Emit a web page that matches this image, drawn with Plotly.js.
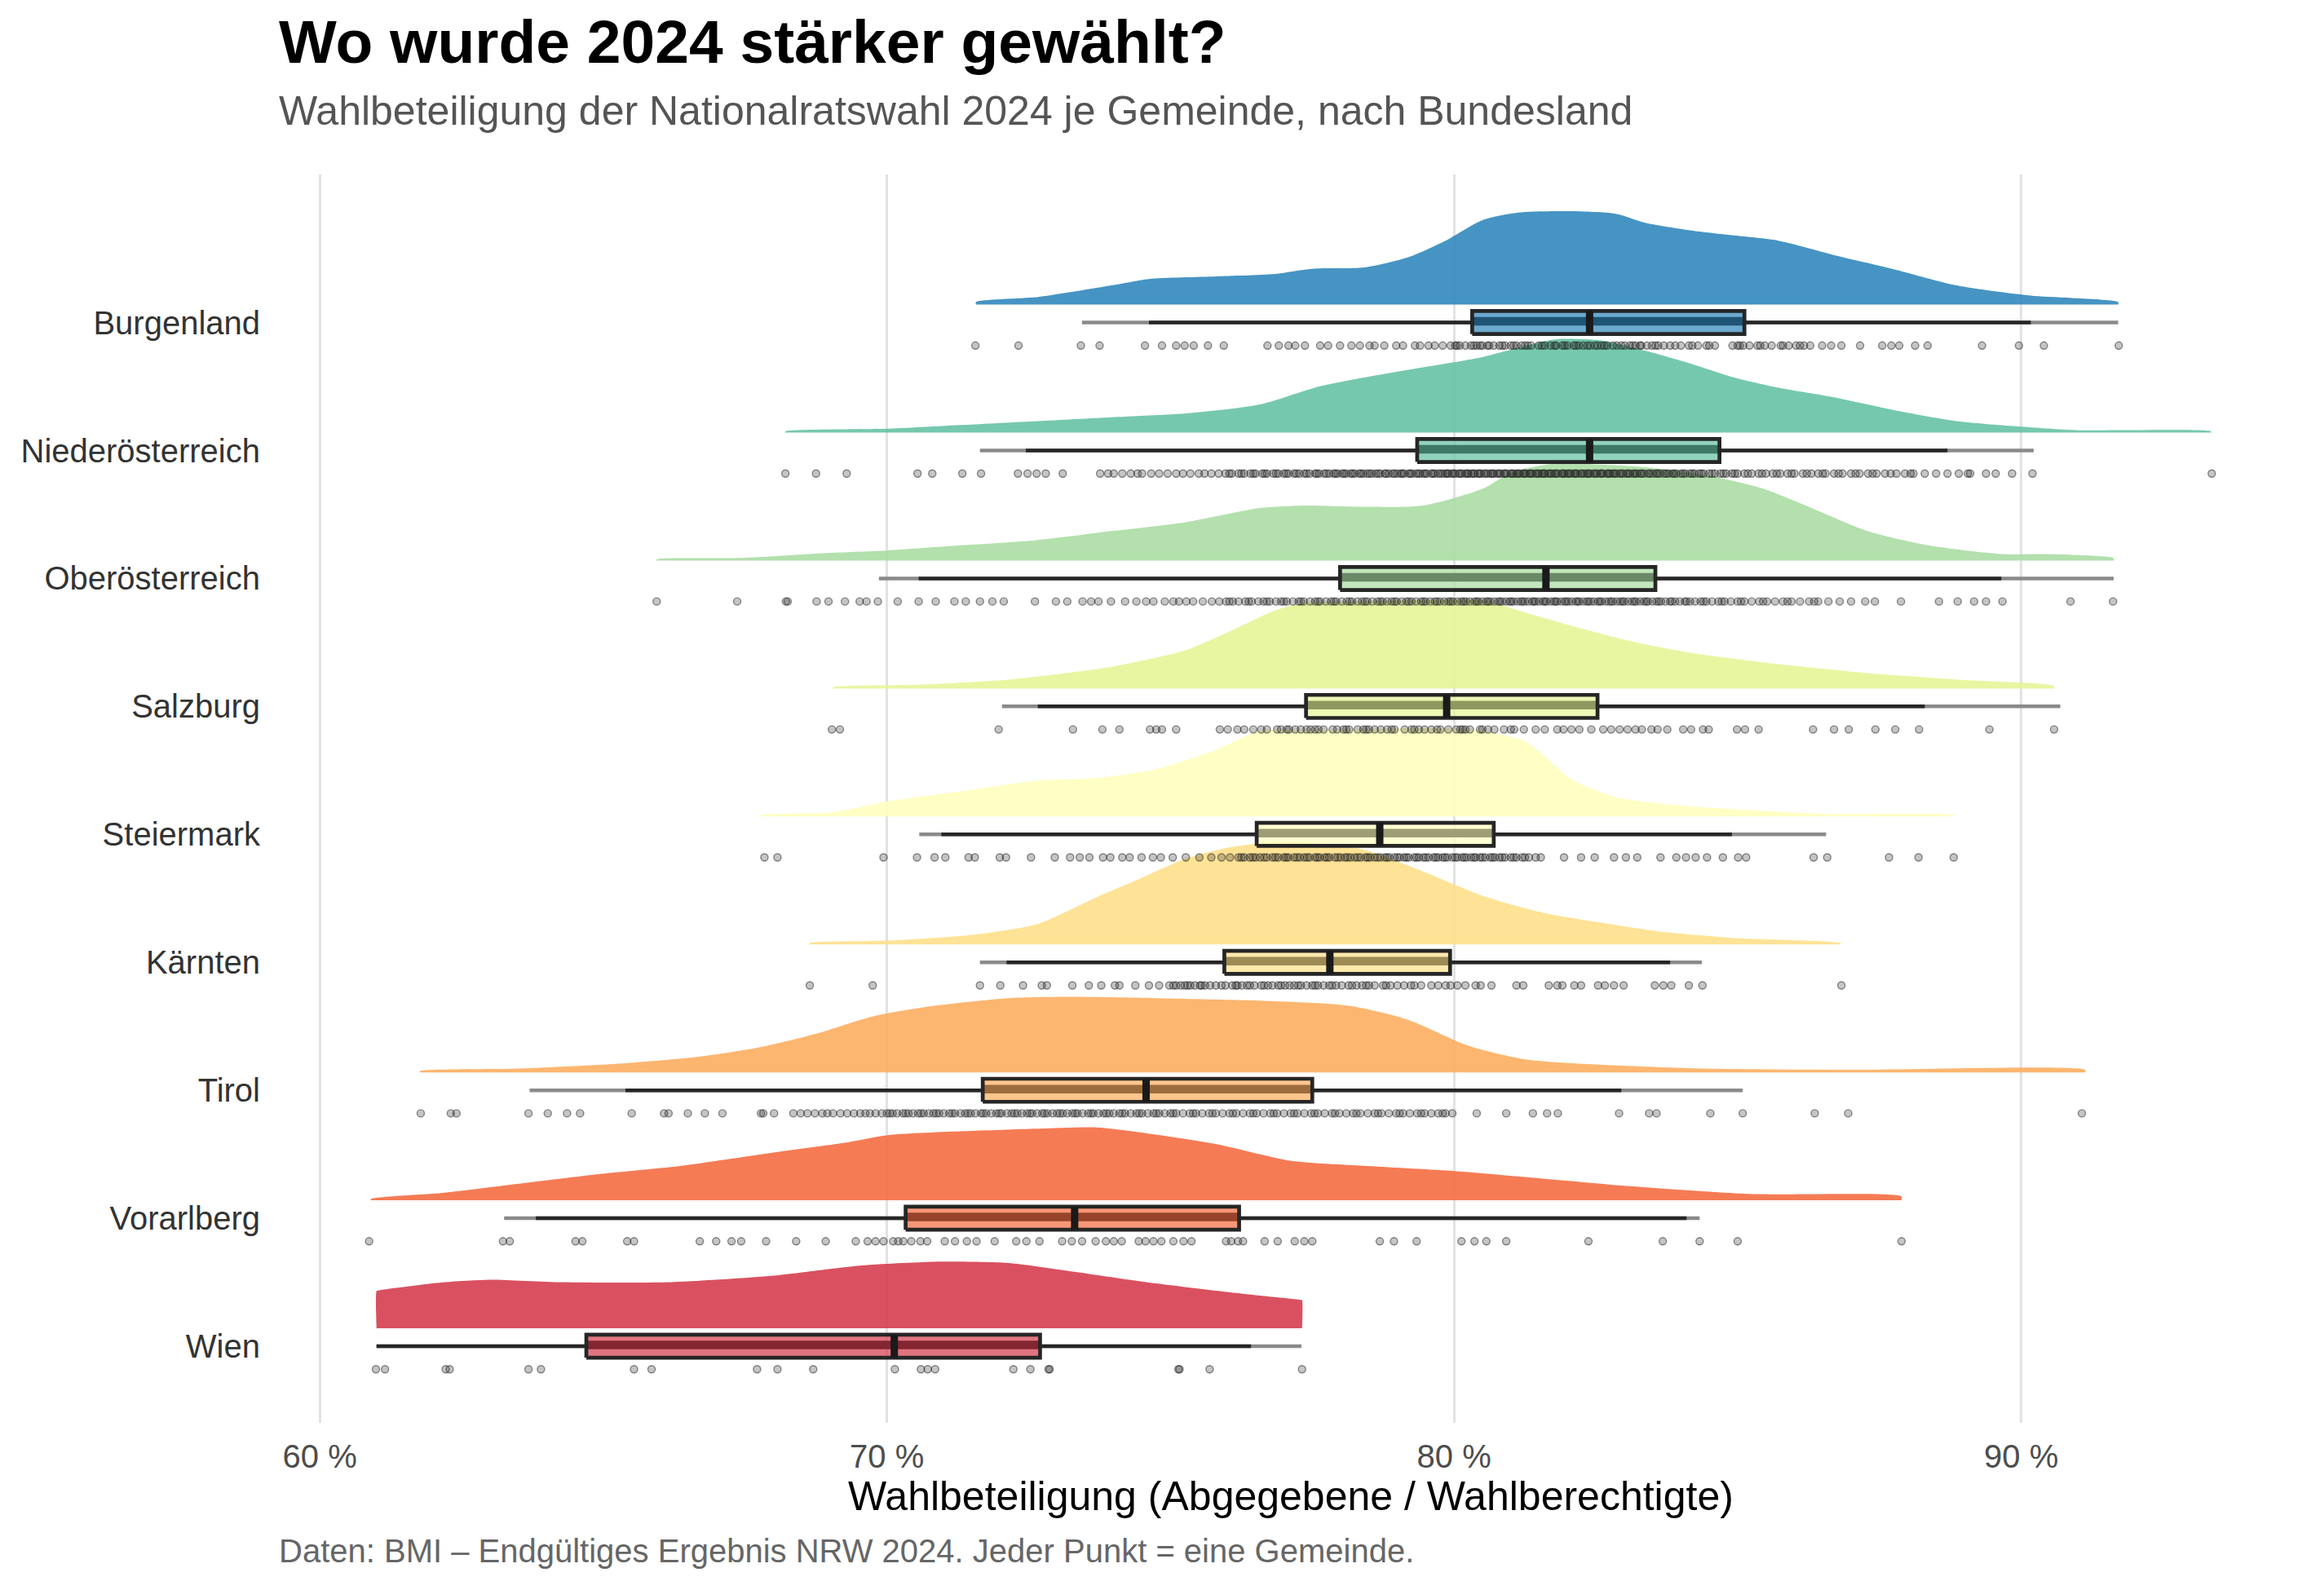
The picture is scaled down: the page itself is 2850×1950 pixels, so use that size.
<!DOCTYPE html>
<html><head><meta charset="utf-8">
<script src="https://cdn.plot.ly/plotly-3.0.1.min.js"></script>
<style>html,body{margin:0;padding:0;background:#fff}#chart{width:2850px;height:1950px}</style>
</head><body><div id="chart"></div>
<script>
// ---------- DATA ----------
const categories = ["Burgenland","Niederösterreich","Oberösterreich","Salzburg","Steiermark","Kärnten","Tirol","Vorarlberg","Wien"];
const tickValsX = [60,70,80,90];
const tickTextX = ["60 %","70 %","80 %","90 %"];

// box statistics (turnout in %) per Bundesland
const boxQ1     = [80.32, 79.35, 77.99, 77.39, 76.52, 75.95, 71.69, 70.33, 64.70];
const boxMedian = [82.39, 82.39, 81.62, 79.87, 78.69, 77.81, 74.57, 73.31, 70.13];
const boxQ3     = [85.12, 84.68, 83.55, 82.53, 80.70, 79.93, 77.50, 76.21, 72.70];
const whiskLo   = [73.44, 71.64, 69.86, 72.03, 70.57, 71.64, 63.70, 63.25, 61.00];
const whiskHi   = [91.71, 90.22, 91.63, 90.69, 86.56, 84.37, 85.09, 84.33, 77.31];
const innerLo   = [74.62, 72.45, 70.56, 72.66, 70.96, 72.11, 65.39, 63.81, 61.00];
const innerHi   = [90.17, 88.70, 89.65, 88.30, 84.90, 83.81, 82.95, 84.10, 76.42];

// density curves (x in %, height relative to row spacing)
const dens_Burgenland_x = [71.57,72.67,73.96,74.62,75.80,76.84,77.49,78.41,79.19,79.85,80.50,81.15,82.07,82.85,83.37,84.16,84.94,85.72,86.77,87.81,88.86,90.17,91.71];
const dens_Burgenland_h = [0.02,0.06,0.15,0.20,0.22,0.24,0.28,0.29,0.37,0.50,0.66,0.72,0.73,0.71,0.64,0.58,0.54,0.50,0.38,0.27,0.15,0.07,0.02];
const dens_Niederoesterreich_x = [68.21,70.04,71.35,72.66,73.96,75.27,76.58,77.62,78.41,79.45,80.50,81.28,81.81,82.59,83.37,84.16,84.94,85.72,86.77,87.81,88.86,89.90,90.95,93.35];
const dens_Niederoesterreich_h = [0.01,0.03,0.06,0.09,0.12,0.15,0.22,0.36,0.43,0.51,0.59,0.68,0.73,0.72,0.64,0.54,0.43,0.35,0.27,0.17,0.09,0.05,0.02,0.01];
const dens_Oberoesterreich_x = [65.94,67.43,69.00,70.04,71.35,72.66,73.96,75.27,76.58,77.36,78.41,79.45,80.50,81.02,81.81,82.59,83.37,84.42,85.46,86.25,87.29,88.34,89.65,90.43,91.63];
const dens_Oberoesterreich_h = [0.01,0.02,0.06,0.08,0.12,0.16,0.23,0.30,0.41,0.43,0.42,0.43,0.56,0.69,0.76,0.75,0.73,0.67,0.56,0.42,0.23,0.12,0.05,0.05,0.02];
const dens_Salzburg_x = [69.05,70.57,72.14,73.96,75.27,76.06,76.84,77.36,78.41,79.45,80.50,81.28,82.07,83.11,84.16,85.72,87.29,88.86,90.58];
const dens_Salzburg_h = [0.01,0.03,0.07,0.17,0.30,0.45,0.61,0.67,0.68,0.69,0.69,0.59,0.49,0.37,0.28,0.19,0.12,0.07,0.02];
const dens_Steiermark_x = [67.77,69.00,70.04,71.35,72.66,73.70,74.75,75.80,76.58,77.36,78.41,79.45,80.50,81.28,82.07,82.85,83.90,85.20,86.51,88.81];
const dens_Steiermark_h = [0.01,0.03,0.12,0.20,0.28,0.30,0.37,0.52,0.67,0.67,0.68,0.69,0.67,0.58,0.29,0.15,0.09,0.05,0.02,0.01];
const dens_Kaernten_x = [68.63,70.04,71.61,72.66,73.70,74.49,75.27,76.06,76.84,77.62,78.41,79.45,80.50,81.54,82.59,83.63,84.94,86.82];
const dens_Kaernten_h = [0.01,0.03,0.08,0.16,0.37,0.52,0.67,0.76,0.80,0.79,0.74,0.57,0.38,0.25,0.17,0.10,0.05,0.01];
const dens_Tirol_x = [61.76,63.51,65.34,66.65,67.69,68.74,69.78,70.83,72.14,73.18,74.75,76.58,78.15,79.19,80.24,81.28,82.59,84.42,87.03,91.13];
const dens_Tirol_h = [0.01,0.03,0.07,0.12,0.19,0.30,0.44,0.52,0.58,0.59,0.58,0.56,0.52,0.41,0.21,0.10,0.06,0.03,0.02,0.02];
const dens_Vorarlberg_x = [60.90,62.20,63.51,64.82,66.38,67.95,69.26,70.04,71.35,72.66,73.70,74.49,75.80,77.10,78.41,79.97,81.81,83.11,85.20,87.89];
const dens_Vorarlberg_h = [0.01,0.06,0.13,0.20,0.27,0.37,0.45,0.51,0.54,0.56,0.57,0.53,0.44,0.31,0.27,0.23,0.16,0.11,0.05,0.03];
const dens_Wien_x = [61.00,61.02,62.20,62.99,64.29,66.12,67.95,69.52,70.83,72.14,73.18,74.75,76.06,77.30,77.32];
const dens_Wien_h = [0.29,0.295,0.36,0.38,0.36,0.36,0.41,0.49,0.52,0.51,0.45,0.35,0.28,0.222,0.22];

// turnout per Gemeinde (%), read from the dot strips
const pts_Burgenland = [71.56,72.32,73.42,73.75,74.55,74.85,75.10,75.25,75.41,75.66,75.94,76.71,76.91,77.08,77.2,77.37,77.64,77.78,77.99,78.19,78.34,78.51,78.6,78.77,78.98,79.10,79.31,79.4,79.66,79.8,79.94,80.02,80.1,80.2,80.35,80.4,80.46,80.5,80.59,80.7,80.8,80.9,81.0,81.1,81.19,81.3,81.36,81.49,81.6,81.77,81.8,81.91,82.0,82.11,82.2,82.28,82.4,82.53,82.6,82.7,82.87,83.01,83.1,83.15,83.28,83.3,83.49,83.6,83.81,83.9,84.0,84.14,84.3,84.45,84.6,84.91,85.0,85.04,85.21,85.35,85.48,85.6,85.76,85.90,86.03,86.1,86.17,86.28,86.49,86.65,86.83,87.16,87.55,87.71,87.85,88.13,88.35,89.31,89.96,90.40,91.72,
  79.55,80.05,80.3,80.62,80.85,81.05,81.25,81.55,81.7,81.95,82.15,82.35,82.48,82.65,82.8,82.95,83.2,83.4,83.55,83.7,84.2,84.5,85.1,85.4,85.8];
const pts_Niederoesterreich = [68.21,68.75,69.29,70.54,70.80,71.33,71.66,72.31,72.48,72.64,72.80,73.10,73.76,73.9,74.0,74.15,74.3,74.42,74.5,74.66,74.8,74.95,75.1,75.22,75.35,75.5,75.6,75.72,75.85,75.97,76.08,76.2,76.3,76.41,76.5,76.62,76.7,76.81,76.9,77.0,77.08,77.18,77.27,77.36,77.45,77.55,77.62,77.71,77.8,77.88,77.95,78.03,78.1,78.18,78.25,78.33,78.4,78.47,78.55,78.62,78.7,78.78,78.85,78.92,79.0,79.06,79.12,79.2,79.26,79.33,79.4,79.46,79.52,79.6,79.66,79.72,79.8,79.85,79.9,79.96,80.02,80.08,80.14,80.2,80.25,80.3,80.36,80.42,80.47,80.53,80.6,80.65,80.7,80.76,80.82,80.88,80.93,81.0,81.05,81.1,81.16,81.22,81.27,81.33,81.38,81.44,81.5,81.55,81.6,81.66,81.72,81.77,81.83,81.9,81.95,82.0,82.06,82.12,82.17,82.23,82.3,82.35,82.4,82.46,82.52,82.58,82.63,82.7,82.75,82.8,82.86,82.92,82.98,83.04,83.1,83.16,83.22,83.28,83.35,83.42,83.5,83.56,83.63,83.7,83.78,83.85,83.92,84.0,84.08,84.16,84.24,84.32,84.4,84.5,84.6,84.7,84.8,84.9,85.0,85.12,85.25,85.37,85.5,85.62,85.75,85.88,86.0,86.15,86.3,86.42,86.55,86.7,86.85,87.0,87.15,87.3,87.45,87.6,87.8,87.95,88.1,88.3,88.5,88.7,88.9,89.06,89.10,89.38,89.55,89.84,90.20,93.36,
  76.04,76.25,76.46,76.66,76.86,77.04,77.22,77.4,77.58,77.75,77.91,78.06,78.21,78.36,78.51,78.66,78.8,78.95,79.09,79.23,79.37,79.49,79.63,79.76,79.88,79.99,80.11,80.23,80.34,80.45,80.56,80.68,80.79,80.9,81.02,81.13,81.24,81.35,81.47,81.58,81.69,81.8,81.92,82.03,82.14,82.26,82.37,82.49,82.6,82.72,82.83,82.95,83.07,83.19,83.31,83.45,83.59,83.74,83.88,84.04,84.2,84.36,84.55,84.75,84.95,85.18,85.43,85.69,85.95,86.22,86.5,86.78,87.08,87.38,87.7,88.05];
const pts_Oberoesterreich = [65.94,67.36,68.22,68.25,68.76,68.97,69.26,69.52,69.64,69.84,70.19,70.56,70.86,71.19,71.39,71.64,71.86,72.06,72.61,72.98,73.18,73.45,73.6,73.73,73.95,74.2,74.4,74.57,74.7,74.9,75.05,75.15,75.28,75.4,75.57,75.73,75.86,75.98,76.1,76.2,76.32,76.43,76.55,76.64,76.75,76.86,76.95,77.05,77.16,77.26,77.35,77.46,77.55,77.64,77.74,77.83,77.92,78.02,78.11,78.2,78.3,78.38,78.47,78.56,78.65,78.74,78.82,78.9,78.99,79.08,79.16,79.25,79.33,79.42,79.5,79.58,79.66,79.75,79.83,79.9,79.98,80.06,80.13,80.21,80.28,80.36,80.43,80.5,80.57,80.64,80.71,80.78,80.85,80.92,80.98,81.05,81.12,81.18,81.25,81.31,81.38,81.44,81.5,81.57,81.63,81.7,81.76,81.82,81.89,81.95,82.02,82.08,82.15,82.21,82.28,82.34,82.41,82.47,82.54,82.6,82.67,82.73,82.8,82.87,82.93,83.0,83.07,83.14,83.21,83.28,83.35,83.42,83.5,83.57,83.65,83.73,83.81,83.9,83.98,84.07,84.16,84.25,84.35,84.45,84.55,84.66,84.77,84.88,85.0,85.12,85.25,85.38,85.52,85.66,85.8,85.95,86.1,86.26,86.42,86.6,86.8,87.0,87.25,87.42,87.88,88.55,88.88,89.17,89.38,89.67,90.87,91.62,
  76.04,76.38,76.7,77.0,77.3,77.6,77.88,78.16,78.43,78.7,78.95,79.2,79.46,79.7,79.94,80.17,80.4,80.6,80.81,81.01,81.21,81.41,81.6,81.79,81.98,82.18,82.37,82.57,82.77,82.97,83.18,83.39,83.61,83.84,84.1,84.4,84.72,85.06,85.45,85.88,86.35];
const pts_Salzburg = [69.03,69.17,71.97,73.28,73.80,74.10,74.64,74.75,74.85,75.10,75.87,76.01,76.18,76.3,76.46,76.6,76.88,76.95,77.09,77.2,77.30,77.4,77.47,77.61,77.7,77.86,77.94,78.05,78.15,78.3,78.40,78.50,78.6,78.71,78.82,78.95,79.13,79.25,79.38,79.48,79.6,79.76,79.90,80.04,80.11,80.2,80.28,80.46,80.6,80.71,80.88,81.06,81.23,81.44,81.6,81.82,81.93,82.07,82.21,82.42,82.63,82.77,82.92,83.06,83.20,83.31,83.48,83.59,83.76,84.04,84.18,84.39,84.49,84.99,85.13,85.37,86.33,86.70,86.96,87.43,87.78,88.20,89.44,90.58,
  76.7,77.05,77.55,78.1,78.45,78.9,79.3,79.7,80.15,80.5,81.0];
const pts_Steiermark = [67.84,68.07,69.94,70.53,70.84,71.03,71.44,71.55,71.99,72.10,72.54,72.96,73.23,73.40,73.57,73.81,73.94,74.15,74.28,74.49,74.69,74.83,75.04,75.27,75.51,75.72,75.90,76.05,76.2,76.3,76.4,76.5,76.58,76.7,76.8,76.9,77.0,77.08,77.18,77.28,77.36,77.45,77.55,77.63,77.72,77.8,77.9,78.0,78.08,78.17,78.25,78.35,78.44,78.52,78.6,78.7,78.78,78.86,78.95,79.04,79.12,79.2,79.3,79.38,79.46,79.55,79.64,79.72,79.8,79.88,79.97,80.06,80.14,80.22,80.3,80.38,80.46,80.55,80.64,80.72,80.8,80.9,81.0,81.1,81.2,81.32,81.44,81.53,81.94,82.24,82.48,82.82,83.03,83.23,83.64,83.92,84.09,84.26,84.46,84.74,85.01,85.15,86.34,86.58,87.67,88.19,88.81,
  76.25,76.45,76.65,76.85,77.04,77.23,77.41,77.59,77.76,77.95,78.12,78.3,78.48,78.65,78.82,79.0,79.16,79.34,79.5,79.68,79.84,80.02,80.18,80.35,80.5,80.68,80.85,81.05,81.25];
const pts_Kaernten = [68.64,69.75,71.64,72.00,72.40,72.73,72.82,73.27,73.56,73.78,74.02,74.10,74.38,74.62,74.80,74.98,75.10,75.18,75.25,75.35,75.43,75.52,75.61,75.7,75.8,75.97,76.09,76.18,76.26,76.35,76.48,76.6,76.72,76.8,76.90,77.02,77.1,77.18,77.30,77.4,77.50,77.6,77.7,77.80,77.92,78.02,78.14,78.28,78.38,78.50,78.6,78.75,78.88,79.00,79.12,79.24,79.42,79.60,79.72,79.85,79.94,80.06,80.20,80.38,80.47,80.66,81.10,81.22,81.67,81.82,81.91,82.12,82.24,82.54,82.66,82.82,82.99,83.54,83.69,83.83,84.14,84.38,86.83,
  75.05,75.3,75.55,75.9,76.15,76.4,76.65,76.95,77.25,77.55,77.85,78.2,78.45,78.8,79.3];
const pts_Tirol = [61.78,62.31,62.41,63.68,64.02,64.36,64.59,65.50,66.07,66.15,66.49,66.79,67.10,67.78,67.82,68.01,68.35,68.48,68.6,68.73,68.86,68.95,69.05,69.18,69.3,69.42,69.53,69.62,69.7,69.8,69.91,70.0,70.1,70.18,70.28,70.38,70.46,70.55,70.65,70.74,70.82,70.92,71.0,71.1,71.2,71.3,71.38,71.48,71.56,71.66,71.75,71.84,71.93,72.02,72.12,72.2,72.3,72.38,72.47,72.56,72.65,72.74,72.83,72.92,73.0,73.1,73.18,73.27,73.36,73.45,73.55,73.64,73.73,73.82,73.92,74.0,74.1,74.2,74.3,74.4,74.5,74.6,74.7,74.8,74.9,75.0,75.1,75.22,75.34,75.45,75.56,75.68,75.8,75.92,76.04,76.16,76.28,76.4,76.52,76.64,76.76,76.88,77.0,77.12,77.24,77.36,77.48,77.6,77.72,77.85,77.98,78.1,78.22,78.35,78.48,78.6,78.72,78.85,78.98,79.1,79.22,79.35,79.48,79.6,79.72,79.85,79.97,80.40,80.92,81.39,81.64,81.83,82.91,83.44,83.57,84.52,85.09,86.36,86.95,91.07,
  70.05,70.33,70.6,70.87,71.15,71.43,71.7,71.98,72.25,72.52,72.78,73.05,73.32,73.6,73.87,74.15,74.45,74.75,75.05,75.4,75.74,76.1,76.46,76.82,77.18,77.54,77.9,78.28,78.66,79.04,79.42,79.8];
const pts_Vorarlberg = [60.87,63.23,63.35,64.51,64.63,65.42,65.54,66.70,66.99,67.26,67.43,67.87,68.40,68.92,69.45,69.66,69.8,69.94,70.11,70.2,70.29,70.43,70.59,70.71,71.02,71.2,71.41,71.58,71.90,72.28,72.46,72.69,73.09,73.26,73.44,73.68,73.86,74.00,74.14,74.44,74.56,74.70,74.84,75.05,75.23,75.37,75.98,76.07,76.19,76.28,76.66,76.89,77.19,77.36,77.50,78.69,78.94,79.34,80.13,80.36,80.57,80.92,82.37,83.68,84.33,85.00,87.89];
const pts_Wien = [60.99,61.15,62.22,62.29,63.68,63.90,65.54,65.85,67.71,68.07,68.70,70.14,70.60,70.72,70.85,72.23,72.53,72.85,72.87,75.14,75.16,75.69,77.32];

// ---------- STYLE ----------
const palette = ["#3288BD","#66C2A5","#ABDDA4","#E6F598","#FFFFBF","#FEE08B","#FDAE61","#F46D43","#D53E4F"];
const FONT = "Liberation Sans, Arial, Helvetica, sans-serif";
const W = 2850, H = 1950, MT = 214, MB = 205, ML = 340, MR = 25;

function hexRgb(h){return [parseInt(h.slice(1,3),16),parseInt(h.slice(3,5),16),parseInt(h.slice(5,7),16)];}
function rgba(h,a){const c=hexRgb(h);return `rgba(${c[0]},${c[1]},${c[2]},${a})`;}
function dark(h,f){const c=hexRgb(h).map(v=>Math.round(v*f));return `rgb(${c[0]},${c[1]},${c[2]})`;}

const densX = [dens_Burgenland_x,dens_Niederoesterreich_x,dens_Oberoesterreich_x,dens_Salzburg_x,dens_Steiermark_x,dens_Kaernten_x,dens_Tirol_x,dens_Vorarlberg_x,dens_Wien_x];
const densH = [dens_Burgenland_h,dens_Niederoesterreich_h,dens_Oberoesterreich_h,dens_Salzburg_h,dens_Steiermark_h,dens_Kaernten_h,dens_Tirol_h,dens_Vorarlberg_h,dens_Wien_h];
const ptsAll = [pts_Burgenland,pts_Niederoesterreich,pts_Oberoesterreich,pts_Salzburg,pts_Steiermark,pts_Kaernten,pts_Tirol,pts_Vorarlberg,pts_Wien];

const n = categories.length;
const rowY = i => n - i;           // Burgenland on top
const DENS_OFF = 0.14, BOX_HALF = 0.09, PT_OFF = -0.18;

const traces = [];
// densities
for (let i=0;i<n;i++){
  const c = rowY(i), base = c + DENS_OFF, xs = densX[i], hs = densH[i];
  const x = [xs[0], ...xs, xs[xs.length-1]];
  const y = [base, ...hs.map(h=>base+h), base];
  traces.push({type:'scatter',mode:'lines',x,y,fill:'toself',fillcolor:rgba(palette[i],0.9),
    line:{width:0,shape:'spline',smoothing:0.7,color:rgba(palette[i],0)},hoverinfo:'skip',showlegend:false});
}
// boxes
for (let i=0;i<n;i++){
  const c = rowY(i);
  traces.push({type:'scatter',mode:'lines',x:[whiskLo[i],whiskHi[i]],y:[c,c],line:{color:'#8a8a8a',width:4.5},hoverinfo:'skip',showlegend:false});
  traces.push({type:'scatter',mode:'lines',x:[innerLo[i],innerHi[i]],y:[c,c],line:{color:'#262626',width:4.5},hoverinfo:'skip',showlegend:false});
  const q1=boxQ1[i], q3=boxQ3[i];
  traces.push({type:'scatter',mode:'lines',x:[q1,q3,q3,q1,q1],y:[c-BOX_HALF,c-BOX_HALF,c+BOX_HALF,c+BOX_HALF,c-BOX_HALF],
    fill:'toself',fillcolor:rgba(palette[i],0.72),line:{width:0,color:'rgba(0,0,0,0)'},hoverinfo:'skip',showlegend:false});
  traces.push({type:'scatter',mode:'lines',x:[q1,q3,q3,q1,q1],y:[c-0.024,c-0.024,c+0.043,c+0.043,c-0.024],
    fill:'toself',fillcolor:dark(palette[i],0.62),line:{width:0,color:'rgba(0,0,0,0)'},hoverinfo:'skip',showlegend:false});
  traces.push({type:'scatter',mode:'lines',x:[q1,q3,q3,q1,q1],y:[c-BOX_HALF,c-BOX_HALF,c+BOX_HALF,c+BOX_HALF,c-BOX_HALF],
    line:{color:'#262626',width:4.7},hoverinfo:'skip',showlegend:false});
  traces.push({type:'scatter',mode:'lines',x:[boxMedian[i],boxMedian[i]],y:[c-BOX_HALF,c+BOX_HALF],
    line:{color:'#1a1a1a',width:9},hoverinfo:'skip',showlegend:false});
}
// points
for (let i=0;i<n;i++){
  const c = rowY(i);
  traces.push({type:'scatter',mode:'markers',x:ptsAll[i],y:ptsAll[i].map(()=>c+PT_OFF),
    marker:{size:9,color:'rgba(45,45,45,0.28)',line:{color:'rgba(30,30,30,0.5)',width:1.4}},hoverinfo:'skip',showlegend:false});
}

const plotH = H - MT - MB;
const py = px => (H - MB - px)/plotH;
function textAt(text, x, xanchor, baselinePx, size, color, bold){
  return {text: bold?`<b>${text}</b>`:text, x, xref:'paper', xanchor, yref:'paper', yanchor:'bottom',
    y: py(baselinePx + 0.212*size + 1), showarrow:false, font:{family:FONT,size,color}};
}

const layout = {
  width:W, height:H, margin:{l:ML,r:MR,t:MT,b:MB,pad:0},
  paper_bgcolor:'#ffffff', plot_bgcolor:'#ffffff', showlegend:false, hovermode:false,
  font:{family:FONT},
  xaxis:{range:[59.25,94.98], tickvals:tickValsX, ticktext:tickTextX, showgrid:true, gridcolor:'#e2e2e2', gridwidth:3,
    zeroline:false, showline:false, ticks:'', tickfont:{family:FONT,size:40,color:'#4d4d4d'}, ticklabelstandoff:14, fixedrange:true},
  yaxis:{range:[0.401,10.157], tickvals:categories.map((_,i)=>rowY(i)), ticktext:categories, showgrid:false,
    zeroline:false, showline:false, ticks:'', tickfont:{family:FONT,size:40,color:'#333333'}, ticklabelstandoff:20, fixedrange:true},
  annotations:[
    textAt("Wo wurde 2024 stärker gewählt?", 0, 'left', 78, 75, '#000000', true),
    textAt("Wahlbeteiligung der Nationalratswahl 2024 je Gemeinde, nach Bundesland", 0, 'left', 154, 50, '#555555', false),
    textAt("Wahlbeteiligung (Abgegebene / Wahlberechtigte)", 0.5, 'center', 1853, 50, '#000000', false),
    textAt("Daten: BMI – Endgültiges Ergebnis NRW 2024. Jeder Punkt = eine Gemeinde.", 0, 'left', 1917, 40, '#666666', false)
  ]
};
Plotly.newPlot('chart', traces, layout, {displayModeBar:false, staticPlot:true});
</script></body></html>
